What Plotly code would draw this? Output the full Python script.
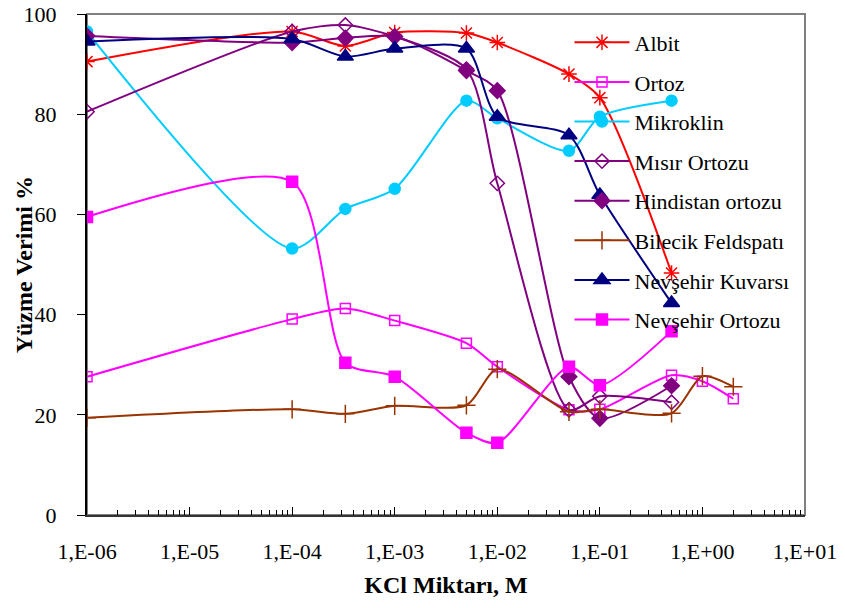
import plotly.graph_objects as go

# KCl concentrations (M)
kcl = [1e-6, 1e-4, 3.3e-4, 1e-3, 5e-3, 1e-2, 5e-2, 1e-1, 5e-1, 1.0, 2.0]

albit = [90.5, 96.5, 93.6, 96.3, 96.2, 94.3, 88.0, 83.3, 48.3]
ortoz = [27.6, 39.1, 41.2, 38.8, 34.3, 29.6, 21.0, 21.1, 27.9, 26.7, 23.2]
mikroklin = [96.5, 53.2, 61.1, 65.1, 82.7, 79.2, 72.7, 79.5, 82.7]
misir_ortozu = [80.5, 96.5, 97.8, 95.5, 89.0, 66.2, 21.0, 23.7, 22.5]
hindistan_ortozu = [95.6, 94.3, 95.2, 95.5, 88.7, 84.7, 27.6, 19.3, 25.8]
bilecik_feldspati = [19.4, 21.1, 20.2, 21.8, 21.9, 29.1, 20.6, 21.1, 20.3, 27.7, 25.6]
nevsehir_kuvarsi = [94.5, 95.0, 91.5, 93.1, 93.1, 79.5, 75.8, 63.9, 42.3]
nevsehir_ortozu = [59.5, 66.5, 30.4, 27.6, 16.4, 14.4, 29.6, 25.9, 36.7]

x_tickvals = [1e-6, 1e-5, 1e-4, 1e-3, 1e-2, 1e-1, 1e0, 1e1]
x_ticktext = ["1,E-06", "1,E-05", "1,E-04", "1,E-03", "1,E-02", "1,E-01", "1,E+00", "1,E+01"]

FONT = "Liberation Serif"

series = [
    ("Albit", albit, "#FF0000", "asterisk-open", 13),
    ("Ortoz", ortoz, "#FF00FF", "square-open", 10),
    ("Mikroklin", mikroklin, "#00CCFF", "circle", 11),
    ("Mısır Ortozu", misir_ortozu, "#800080", "diamond-open", 11),
    ("Hindistan ortozu", hindistan_ortozu, "#800080", "diamond", 12),
    ("Bilecik Feldspatı", bilecik_feldspati, "#993300", "cross-thin-open", 13),
    ("Nevşehir Kuvarsı", nevsehir_kuvarsi, "#000080", "triangle-up", 14),
    ("Nevşehir Ortozu", nevsehir_ortozu, "#FF00FF", "square", 11),
]

fig = go.Figure()
for name, vals, color, symbol, size in series:
    fig.add_trace(go.Scatter(
        x=kcl[:len(vals)], y=vals, name=name, legendgroup=name,
        mode="lines+markers",
        line=dict(color=color, width=2, shape="spline", smoothing=0.75),
        marker=dict(symbol=symbol, size=size, color=color,
                    line=dict(color=color, width=1.5)),
    ))

fig.update_layout(
    width=845, height=608,
    margin=dict(l=87, r=40, t=14, b=93),
    paper_bgcolor="white", plot_bgcolor="white",
    font=dict(family=FONT, size=22, color="black"),
    showlegend=True,
    legend=dict(x=0.672, y=0.985, xanchor="left", yanchor="top",
                bgcolor="rgba(0,0,0,0)", font=dict(family=FONT, size=22),
                tracegroupgap=8, itemwidth=55),
    shapes=[dict(type="rect", xref="paper", yref="paper", x0=0, x1=1, y0=0, y1=1,
                 line=dict(color="#808080", width=2), layer="below")],
    # vertical axis title, placed as rotated text left of the tick labels
    annotations=[dict(text="<b>Yüzme Verimi %</b>", textangle=-90,
                      xref="paper", yref="paper", x=-0.088, y=0.5,
                      xanchor="center", yanchor="middle", showarrow=False,
                      font=dict(family=FONT, size=24))],
)

fig.update_xaxes(
    type="log", range=[-6, 1], automargin=False,
    tickvals=x_tickvals, ticktext=x_ticktext,
    ticks="inside", ticklen=8, tickwidth=1, tickcolor="black",
    minor=dict(ticks="inside", ticklen=5, tickcolor="black", dtick="D1", showgrid=False),
    showline=True, linecolor="#333333", linewidth=2,
    showgrid=False, zeroline=False,
    ticklabelstandoff=16,
    tickfont=dict(family=FONT, size=22),
    title=dict(text="<b>KCl Miktarı, M</b>", font=dict(family=FONT, size=24), standoff=13),
)
fig.update_yaxes(
    range=[0, 100], dtick=20, automargin=False,
    ticks="outside", ticklen=8, tickwidth=1, tickcolor="black",
    showline=True, linecolor="black", linewidth=2,
    showgrid=False, zeroline=False,
    ticklabelstandoff=16,
    tickfont=dict(family=FONT, size=22),
)

fig.write_html("out.html")
